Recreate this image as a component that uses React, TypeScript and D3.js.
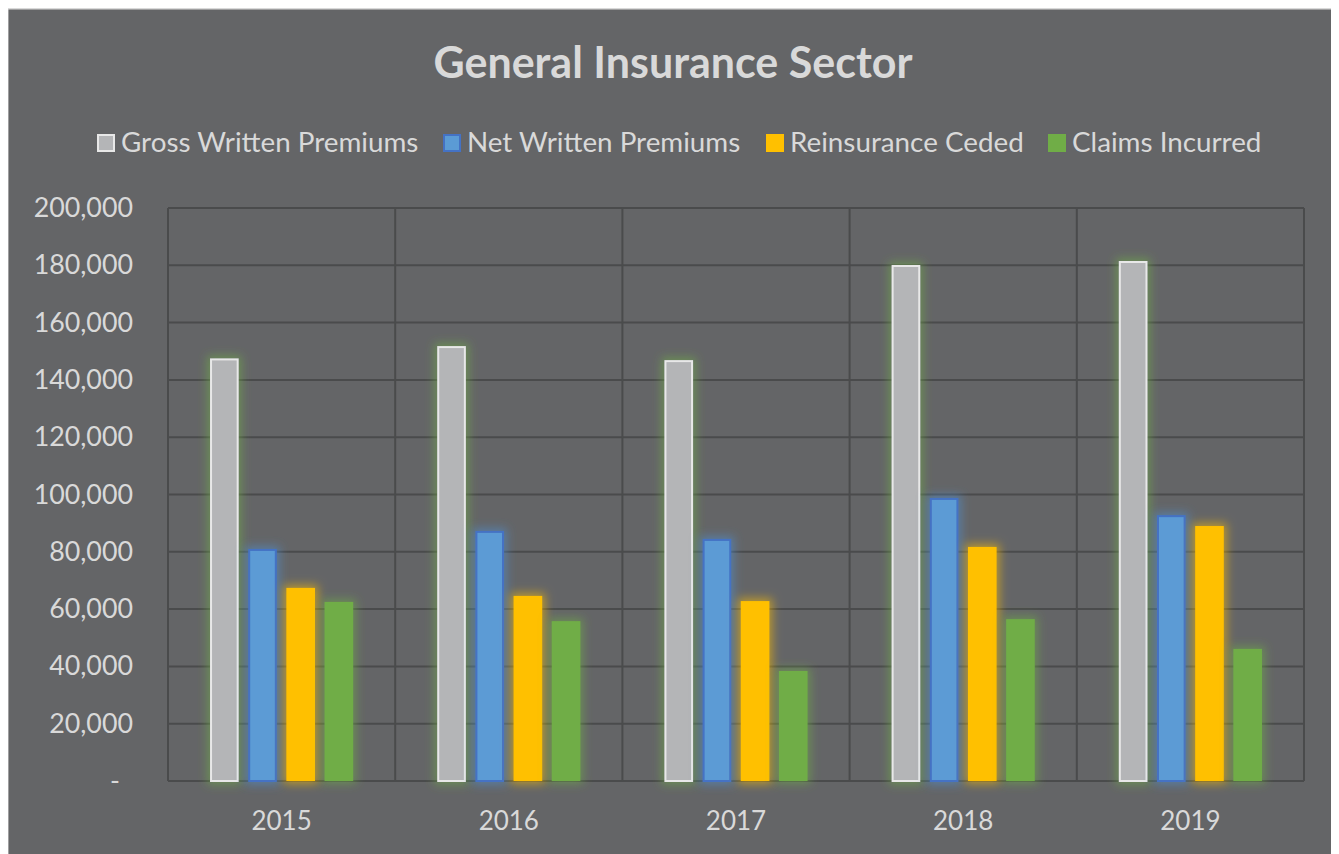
import React, { useEffect } from "react";
import * as d3 from "d3";

const years = ["2015", "2016", "2017", "2018", "2019"];
const seriesNames = ["Gross Written Premiums", "Net Written Premiums", "Reinsurance Ceded", "Claims Incurred"];
const grossWritten = [147500, 151800, 146900, 180100, 181500];
const netWritten = [81000, 87300, 84500, 98800, 92800];
const reinsuranceCeded = [67400, 64600, 62800, 81700, 89000];
const claimsIncurred = [62500, 55800, 38400, 56500, 46100];
const yTicks = [0, 20000, 40000, 60000, 80000, 100000, 120000, 140000, 160000, 180000, 200000];

const fills = ["#b4b5b7", "#5b9bd5", "#ffc000", "#70ad47"];
const strokes = ["#e8e8e8", "#4472c4", "#ffc000", "#70ad47"];
const glows = ["#70ad47", "#4f8fd0", "#ffc000", "#70ad47"];

const W = 1331;
const H = 846;
const FONT = "Lato, 'Open Sans', sans-serif";
const TEXT = "#d9d9d9";

export default function App() {
  useEffect(() => {
    document.body.style.overflow = "hidden";
  }, []);
  const values = [grossWritten, netWritten, reinsuranceCeded, claimsIncurred];
  const left = 160, right = 1296, top = 200, bottom = 773;
  const x0 = d3.scaleBand<string>().domain(years).range([left, right]).padding(0);
  const bw = x0.bandwidth();
  const x1 = d3.scaleBand<string>().domain(seriesNames).range([bw * 0.185, bw * 0.815]).paddingInner(0.25).paddingOuter(0);
  const y = d3.scaleLinear().domain([0, 200000]).range([bottom, top]);
  const fmt = d3.format(",");

  const legendX = [89, 435, 758, 1040];

  return (
    <svg width={W} height={H} style={{ display: "block" }} fontFamily={FONT}>
      <defs>
        {glows.map((c, i) => (
          <filter key={i} id={`glow${i}`} x="-60%" y="-20%" width="220%" height="140%">
            <feMorphology in="SourceAlpha" operator="dilate" radius="3" result="d" />
            <feGaussianBlur in="d" stdDeviation="5" result="b" />
            <feFlood floodColor={c} floodOpacity="0.55" />
            <feComposite in2="b" operator="in" result="g" />
            <feMerge>
              <feMergeNode in="g" />
              <feMergeNode in="SourceGraphic" />
            </feMerge>
          </filter>
        ))}
      </defs>
      <rect x={0} y={0} width={W} height={H} fill="#646567" />
      <rect x={-0.5} y={0.5} width={W + 2} height={H + 2} fill="none" stroke="#d9d9d9" strokeWidth={2} />
      <text x={665} y={70} textAnchor="middle" fontSize={43} fontWeight={700} fill={TEXT}>
        General Insurance Sector
      </text>
      {seriesNames.map((s, i) => (
        <g key={s}>
          <rect x={legendX[i] + 1} y={127} width={16} height={16} fill={fills[i]} stroke={strokes[i]} strokeWidth={2} />
          <text x={legendX[i] + 24} y={144} fontSize={27.8} fill={TEXT}>
            {s}
          </text>
        </g>
      ))}
      {yTicks.map((t) => (
        <line key={t} x1={left} x2={right} y1={y(t)} y2={y(t)} stroke="#4a4b4c" strokeWidth={2} />
      ))}
      {years.concat(["end"]).map((yr, i) => {
        const xv = i < years.length ? (x0(yr) as number) : right;
        return <line key={yr} x1={xv} x2={xv} y1={top} y2={bottom} stroke="#4a4b4c" strokeWidth={2} />;
      })}
      {yTicks.map((t) => (
        <text key={t} x={t === 0 ? 112 : 125} y={y(t) + 9} textAnchor="end" fontSize={26.8} fill={TEXT}>
          {t === 0 ? "-" : fmt(t)}
        </text>
      ))}
      {years.map((yr) => (
        <text key={yr} x={(x0(yr) as number) + bw / 2} y={822} textAnchor="middle" fontSize={26} fill={TEXT}>
          {yr}
        </text>
      ))}
      {years.map((yr, yi) => (
        <g key={yr} transform={`translate(${x0(yr)},0)`}>
          {seriesNames.map((s, si) => {
            const v = values[si][yi];
            const sw = si < 2 ? 2 : 0;
            return (
              <rect
                key={s}
                x={(x1(s) as number) + sw / 2}
                y={y(v) + sw / 2}
                width={x1.bandwidth() - sw}
                height={bottom - y(v) - sw / 2}
                fill={fills[si]}
                stroke={sw ? strokes[si] : "none"}
                strokeWidth={sw}
                filter={`url(#glow${si})`}
              />
            );
          })}
        </g>
      ))}
    </svg>
  );
}
